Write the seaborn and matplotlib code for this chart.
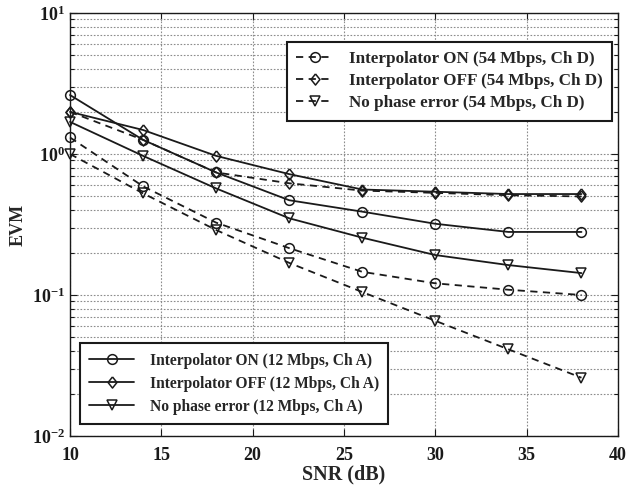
import matplotlib
matplotlib.use("Agg")
import matplotlib.pyplot as plt
import seaborn as sns
import numpy as np
from matplotlib.ticker import LogLocator, FixedLocator

snr = [10, 14, 18, 22, 26, 30, 34, 38]

# 54 Mbps, Ch D (dashed)
on_54 = [1.31, 0.59, 0.326, 0.215, 0.146, 0.121, 0.109, 0.100]
off_54 = [1.99, 1.26, 0.74, 0.62, 0.55, 0.53, 0.51, 0.50]
nope_54 = [1.00, 0.526, 0.289, 0.169, 0.105, 0.0656, 0.0412, 0.0259]

# 12 Mbps, Ch A (solid)
on_12 = [2.62, 1.26, 0.74, 0.47, 0.39, 0.32, 0.28, 0.28]
off_12 = [1.99, 1.48, 0.97, 0.72, 0.56, 0.54, 0.52, 0.52]
nope_12 = [1.69, 0.97, 0.57, 0.35, 0.255, 0.192, 0.163, 0.143]

labels_54 = ["Interpolator ON (54 Mbps, Ch D)",
             "Interpolator OFF (54 Mbps, Ch D)",
             "No phase error (54 Mbps, Ch D)"]
labels_12 = ["Interpolator ON (12 Mbps, Ch A)",
             "Interpolator OFF (12 Mbps, Ch A)",
             "No phase error (12 Mbps, Ch A)"]

diamond = [(0, 1), (0.8, 0), (0, -1), (-0.8, 0), (0, 1)]
markers = ["o", diamond, "v"]
msizes = [7, 8, 7.5]

sns.set_theme(style="white")
plt.rcParams["font.family"] = ["Liberation Serif", "DejaVu Serif"]
plt.rcParams["font.weight"] = "bold"
plt.rcParams["mathtext.fontset"] = "custom"
plt.rcParams["mathtext.rm"] = "Liberation Serif:bold"
plt.rcParams["mathtext.it"] = "Liberation Serif:bold"
plt.rcParams["mathtext.bf"] = "Liberation Serif:bold"

fig = plt.figure(figsize=(6.39, 4.96), dpi=100)
ax = fig.add_axes([70 / 639, 60 / 496, 548 / 639, 423 / 496])

h54, h12 = [], []
for vals, lab, m, ms in zip([on_54, off_54, nope_54], labels_54, markers, msizes):
    sns.lineplot(x=snr, y=vals, ax=ax, color="k", marker=m, markersize=ms,
                 markerfacecolor="none", markeredgecolor="k", markeredgewidth=1.1,
                 linewidth=1.3, linestyle=(0, (4, 3)), label=lab, legend=False,
                 clip_on=False)
    h54.append(ax.get_lines()[-1])
for vals, lab, m, ms in zip([on_12, off_12, nope_12], labels_12, markers, msizes):
    sns.lineplot(x=snr, y=vals, ax=ax, color="k", marker=m, markersize=ms,
                 markerfacecolor="none", markeredgecolor="k", markeredgewidth=1.1,
                 linewidth=1.3, linestyle="-", label=lab, legend=False,
                 clip_on=False)
    h12.append(ax.get_lines()[-1])

ax.set_yscale("log")
ax.set_xlim(10, 40)
ax.set_ylim(1e-2, 1e1)
ax.xaxis.set_major_locator(FixedLocator([10, 15, 20, 25, 30, 35, 40]))
ax.yaxis.set_major_locator(LogLocator(base=10, numticks=10))
ax.yaxis.set_minor_locator(LogLocator(base=10, subs=np.arange(2, 10), numticks=20))

ax.grid(True, which="major", axis="both", color="0.55", linestyle=(0, (1.5, 1.5)), linewidth=0.8)
ax.grid(True, which="minor", axis="y", color="0.55", linestyle=(0, (1.5, 1.5)), linewidth=0.8)

ax.tick_params(which="both", direction="in", top=True, right=True, left=True, bottom=True,
               colors="k", labelsize=13)
ax.tick_params(which="major", length=5, width=0.8)
ax.tick_params(which="minor", length=3, width=0.8)
ax.tick_params(axis="x", which="major", pad=8)
for sp in ax.spines.values():
    sp.set_color("k")
    sp.set_linewidth(1.0)

ax.set_xlabel("SNR (dB)", fontsize=14.5, fontweight="bold", labelpad=0)
ax.set_ylabel("EVM", fontsize=13, fontweight="bold")
ax.yaxis.set_label_coords((27 - 70) / 548, 0.5)

leg1 = ax.legend(handles=h54, labels=labels_54, loc="upper right",
                 bbox_to_anchor=((612 - 70) / 548, (436 - 42) / 423),
                 borderaxespad=0, frameon=True, fancybox=False, framealpha=1,
                 edgecolor="k", prop={"size": 12.3, "weight": "bold"},
                 handlelength=2.2, handletextpad=0.9, labelspacing=0.35,
                 borderpad=0.55)
leg1.get_frame().set_linewidth(1.5)
ax.add_artist(leg1)
leg2 = ax.legend(handles=h12, labels=labels_12, loc="lower left",
                 bbox_to_anchor=((80 - 70) / 548, (436 - 424) / 423),
                 borderaxespad=0, frameon=True, fancybox=False, framealpha=1,
                 edgecolor="k", prop={"size": 11.2, "weight": "bold"},
                 handlelength=2.9, handletextpad=1.0, labelspacing=0.45,
                 borderpad=0.6)
leg2.get_frame().set_linewidth(1.5)

fig.savefig("out.png", dpi=100, facecolor="white")
